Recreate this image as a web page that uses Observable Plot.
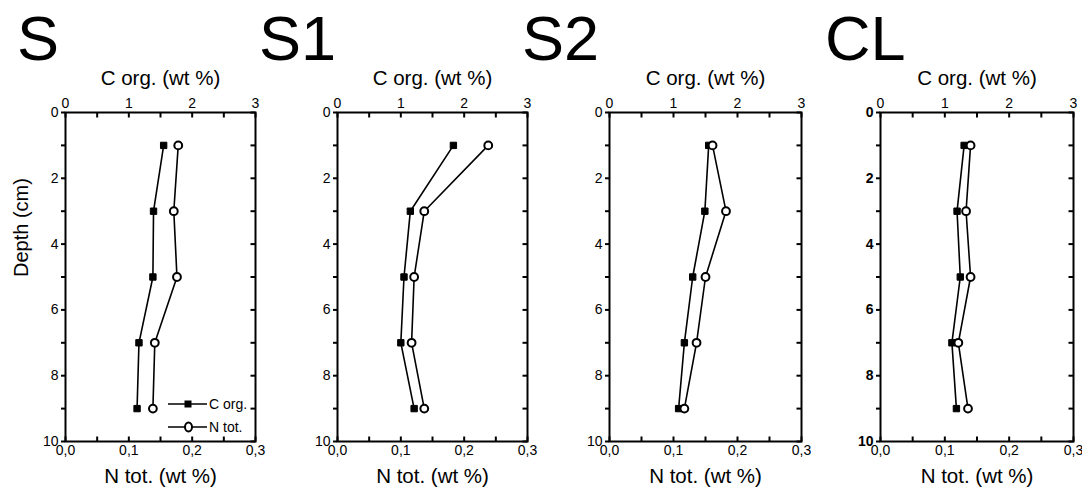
<!DOCTYPE html>
<html><head><meta charset="utf-8">
<script src="https://cdn.jsdelivr.net/npm/d3@7"></script>
<script src="https://cdn.jsdelivr.net/npm/@observablehq/plot@0.6"></script>
<style>
body{margin:0;background:#fff;font-family:"Liberation Sans",Arial,sans-serif;}
#wrap{position:relative;width:1082px;height:489px;overflow:hidden;background:#fff;}
.title{position:absolute;top:7px;font-size:63px;line-height:1;color:#000;white-space:nowrap;}
.panel{position:absolute;top:0;}
#legend{position:absolute;left:160px;top:393px;}
</style></head><body><div id="wrap"></div>
<script>
// ---- data ----
const depths = [1, 3, 5, 7, 9];
const sites = ["S", "S1", "S2", "CL"];
const corgS  = [1.55, 1.39, 1.38, 1.16, 1.13];
const ntotS  = [0.178, 0.171, 0.176, 0.141, 0.138];
const corgS1 = [1.83, 1.15, 1.05, 1.00, 1.21];
const ntotS1 = [0.238, 0.137, 0.121, 0.117, 0.137];
const corgS2 = [1.55, 1.49, 1.30, 1.17, 1.08];
const ntotS2 = [0.161, 0.182, 0.150, 0.136, 0.117];
const corgCL = [1.30, 1.19, 1.24, 1.11, 1.18];
const ntotCL = [0.140, 0.133, 0.140, 0.121, 0.136];
const cTicks = [0, 1, 2, 3];            // C org. (wt %) top axis
const nTicks = [0, 0.1, 0.2, 0.3];      // N tot. (wt %) bottom axis
const minorTicks = [0, 0.5, 1, 1.5, 2, 2.5, 3];
const depthTicks = [0,1,2,3,4,5,6,7,8,9,10];
const topLabel = "C org. (wt %)";
const bottomLabel = "N tot. (wt %)";
const yLabel = "Depth (cm)";
const legendLabels = ["C org.", "N tot."];

// ---- layout ----
const corg = [corgS, corgS1, corgS2, corgCL];
const ntot = [ntotS, ntotS1, ntotS2, ntotCL];
const frameLeft = [65, 337, 609, 880];
const frameW = [190, 190, 192, 193];
const titleLeft = [17, 259, 522, 825];
const H = 489, mT = 112, mB = 48, mL = 65, mR = 15;
const tk = 5; // inward tick length (px)
const font = '"Liberation Sans", Arial, sans-serif';
const wrap = document.getElementById("wrap");

// tick-shaped symbols drawn from the frame edge inward
const tickDown  = {draw(ctx) { ctx.moveTo(0, 0); ctx.lineTo(0, tk); }};
const tickUp    = {draw(ctx) { ctx.moveTo(0, 0); ctx.lineTo(0, -tk); }};
const tickLeft  = {draw(ctx) { ctx.moveTo(0, 0); ctx.lineTo(-tk, 0); }};

sites.forEach((site, i) => {
  const rows = depths.map((d, j) => ({depth: d, c: corg[i][j], n: ntot[i][j] * 10}));
  const fw = frameW[i];
  const boldY = site === "CL";
  const plot = Plot.plot({
    width: mL + fw + mR, height: H,
    marginTop: mT, marginBottom: mB, marginLeft: mL, marginRight: mR,
    style: {fontFamily: font, fontSize: "14px", color: "#000", background: "transparent", overflow: "visible"},
    x: {domain: [0, 3]},
    y: {domain: [0, 10], reverse: true},
    marks: [
      Plot.frame({stroke: "#000", strokeWidth: 2}),
      // inward ticks on top, bottom, right
      Plot.dot(minorTicks, {x: d => d, frameAnchor: "top", symbol: tickDown, fill: "none", stroke: "#000", strokeWidth: 2}),
      Plot.dot(minorTicks, {x: d => d, frameAnchor: "bottom", symbol: tickUp, fill: "none", stroke: "#000", strokeWidth: 2}),
      Plot.dot(depthTicks, {y: d => d, frameAnchor: "right", symbol: tickLeft, fill: "none", stroke: "#000", strokeWidth: 2}),
      // tick labels
      Plot.axisX({anchor: "top", ticks: cTicks, tickSize: 0, tickPadding: 5, label: null, fontSize: 14,
        tickFormat: d => String(d)}),
      Plot.axisX({anchor: "bottom", ticks: nTicks.map(v => v * 10), tickSize: 0, tickPadding: 4, label: null, fontSize: 14,
        tickFormat: d => (d / 10).toFixed(1).replace(".", ",")}),
      Plot.axisY({anchor: "left", ticks: depthTicks, tickSize: 4, tickPadding: 3, label: null, fontSize: 14,
        stroke: "#000", strokeWidth: 2, tickFormat: d => (d % 2 === 0 ? String(d) : ""),
        fontWeight: boldY ? "bold" : "normal"}),
      // axis titles
      Plot.text([topLabel], {frameAnchor: "top", dy: -34.5, text: d => d, fontSize: 20.5, lineAnchor: "middle"}),
      Plot.text([bottomLabel], {frameAnchor: "bottom", dy: 35, text: d => d, fontSize: 20.5, lineAnchor: "middle"}),
      ...(i === 0 ? [Plot.text([yLabel], {frameAnchor: "left", dx: -44, rotate: -90, text: d => d, fontSize: 20, lineAnchor: "middle"})] : []),
      // data
      Plot.line(rows, {x: "c", y: "depth", stroke: "#000", strokeWidth: 1.6}),
      Plot.line(rows, {x: "n", y: "depth", stroke: "#000", strokeWidth: 1.6}),
      Plot.dot(rows, {x: "c", y: "depth", symbol: "square", r: 3.6, fill: "#000", stroke: "#000", strokeWidth: 1}),
      Plot.dot(rows, {x: "n", y: "depth", symbol: "circle", r: 3.9, fill: "#fff", stroke: "#000", strokeWidth: 2})
    ]
  });
  plot.classList.add("panel");
  plot.style.left = (frameLeft[i] - mL) + "px";
  wrap.appendChild(plot);

  const t = document.createElement("div");
  t.className = "title";
  t.textContent = site;
  t.style.left = titleLeft[i] + "px";
  wrap.appendChild(t);
});

// legend (panel S)
const lg = d3.create("svg").attr("id", "legend").attr("width", 100).attr("height", 45)
  .style("font-family", font).style("font-size", "14px");
legendLabels.forEach((lab, k) => {
  const y = 11 + k * 23;
  lg.append("line").attr("x1", 8).attr("x2", 47).attr("y1", y).attr("y2", y).attr("stroke", "#000").attr("stroke-width", 1.6);
  if (k === 0) lg.append("rect").attr("x", 24.5).attr("y", y - 3.5).attr("width", 7).attr("height", 7).attr("fill", "#000");
  else lg.append("ellipse").attr("cx", 28.5).attr("cy", y).attr("rx", 3.5).attr("ry", 4.5).attr("fill", "#fff").attr("stroke", "#000").attr("stroke-width", 2);
  lg.append("text").attr("x", 49).attr("y", y).attr("dy", "0.35em").text(lab);
});
wrap.appendChild(lg.node());
</script>
</body></html>
